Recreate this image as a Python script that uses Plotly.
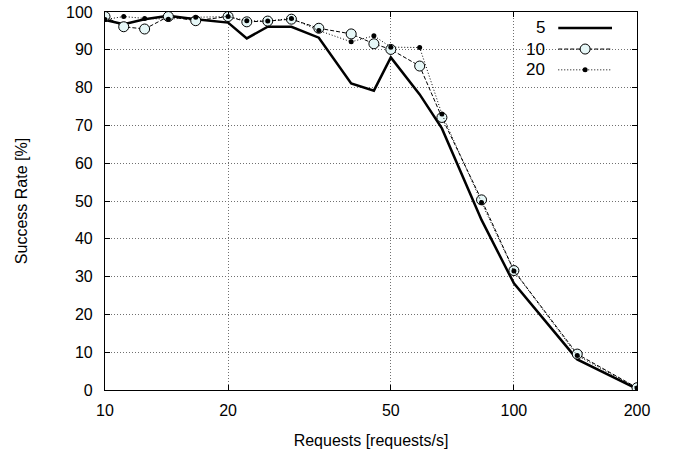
import plotly.graph_objects as go

# request rates (requests/s) = 1000 / interval(ms)
intervals_ms = [100, 90, 80, 70, 60, 50, 45, 40, 35, 30, 25, 22, 20, 17, 15, 12, 10, 7, 5]
requests = [1000.0 / v for v in intervals_ms]

series_names = ["5", "10", "20"]
rate_5 = [97.9, 96.8, 98.1, 99.0, 98.1, 97.2, 93.0, 96.1, 96.1, 93.2, 81.1, 79.2, 88.0,
          78.2, 69.2, 45.0, 28.2, 8.1, 0.3]
rate_10 = [98.8, 96.1, 95.5, 98.8, 97.7, 98.8, 97.4, 97.6, 98.1, 95.7, 94.2, 91.6, 90.1,
           85.7, 72.1, 50.3, 31.6, 9.5, 0.6]
rate_20 = [98.0, 98.8, 98.3, 98.1, 98.6, 98.8, 97.7, 97.6, 98.3, 95.1, 92.1, 93.7, 90.7,
           90.6, 73.0, 49.6, 31.5, 9.1, 0.5]

x_ticks = [10, 20, 50, 100, 200]
y_ticks = list(range(0, 101, 10))

FONT = "Liberation Sans, Arial, sans-serif"
marker_fill = "#e6f7f7"

styles = [
    dict(line=dict(color="black", width=2.5), mode="lines", marker=dict()),
    dict(line=dict(color="black", width=1, dash="4px,2px"), mode="lines+markers",
         marker=dict(symbol="circle", size=10, color=marker_fill, line=dict(color="black", width=1))),
    dict(line=dict(color="black", width=1, dash="1px,2px"), mode="lines+markers",
         marker=dict(symbol="circle", size=5, color="black")),
]

fig = go.Figure()
for name, vals, st in zip(series_names, [rate_5, rate_10, rate_20], styles):
    fig.add_trace(go.Scatter(x=requests, y=vals, name=name, mode=st["mode"],
                             line=st["line"], marker=st["marker"], showlegend=False))

# custom gnuplot-like key (text left of sample) on an overlay axis
key_rows = [0.958, 0.902, 0.847]
for name, row, st in zip(series_names, key_rows, styles):
    fig.add_trace(go.Scatter(x=[0.852, 0.953], y=[row, row], mode="lines", line=st["line"],
                             xaxis="x2", yaxis="y2", showlegend=False, hoverinfo="skip"))
    if st["mode"] == "lines+markers":
        fig.add_trace(go.Scatter(x=[0.9025], y=[row], mode="markers", marker=st["marker"],
                                 xaxis="x2", yaxis="y2", showlegend=False, hoverinfo="skip"))
    fig.add_annotation(x=0.83, y=row, xref="paper", yref="paper", text=name,
                       showarrow=False, xanchor="right", yanchor="middle",
                       font=dict(family=FONT, size=17, color="black"))

fig.add_shape(type="rect", xref="paper", yref="paper", x0=0.772, x1=0.975, y0=0.818, y1=0.993,
              fillcolor="white", line=dict(width=0), layer="between")

axis_common = dict(showline=True, linecolor="black", linewidth=1.2, mirror="ticks",
                   ticks="inside", ticklen=5, tickcolor="black", tickwidth=1,
                   showgrid=True, gridcolor="#707070", griddash="1px,2px", gridwidth=1,
                   zeroline=False, automargin=False,
                   tickfont=dict(family=FONT, size=16, color="black"))

fig.update_layout(
    width=678, height=456,
    margin=dict(l=105, r=41, t=12, b=66, autoexpand=False),
    paper_bgcolor="white", plot_bgcolor="white",
    font=dict(family=FONT, size=16, color="black"),
    xaxis=dict(type="log", range=[1, 2.30103], tickvals=x_ticks,
               ticktext=[str(v) for v in x_ticks], ticklabelstandoff=6,
               title=dict(text="Requests [requests/s]", font=dict(family=FONT, size=16), standoff=16),
               **axis_common),
    yaxis=dict(range=[0, 100], tickvals=y_ticks, ticklabelstandoff=8,
               title=dict(text="Success Rate [%]", font=dict(family=FONT, size=16), standoff=34),
               **axis_common),
    xaxis2=dict(overlaying="x", range=[0, 1], visible=False, fixedrange=True),
    yaxis2=dict(overlaying="y", range=[0, 1], visible=False, fixedrange=True),
    showlegend=False,
)

fig.write_html("out.html", config={"displayModeBar": False},
               post_script="document.body.style.margin='0px';document.body.style.overflow='hidden';")
